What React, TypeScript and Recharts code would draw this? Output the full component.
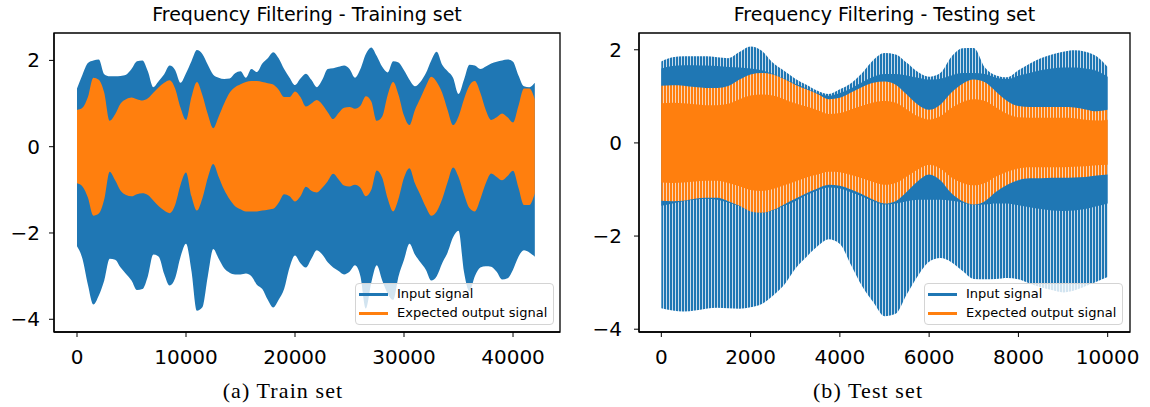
import { ComposedChart, Area, XAxis, YAxis, ReferenceArea } from "recharts"

const blue = "#1f77b4"
const orange = "#ff7f0e"
const sans = "'DejaVu Sans', sans-serif"

// training set: envelopes of the signals, one value every 500 samples
const trainStep = 500
const trainInputHigh = [
  1.35, 1.67, 1.94, 2.0, 2.02, 1.68, 1.63, 1.63, 1.64, 1.67,
  1.8, 1.98, 2.0, 1.75, 1.38, 1.52, 1.68, 1.88, 1.78, 1.48,
  1.7, 1.98, 2.24, 2.15, 1.9, 1.67, 1.6, 1.57, 1.58, 1.7,
  1.75, 1.6, 1.8, 1.73, 1.93, 2.05, 2.19, 2.05, 1.8, 1.6,
  1.43, 1.58, 1.69, 1.55, 1.38, 1.55, 1.8, 1.82, 1.85, 1.88,
  1.8, 1.6, 1.8, 2.15, 2.3, 2.1, 1.85, 1.72, 1.98, 1.95,
  1.77, 1.55, 1.4, 1.5, 1.7, 2.0, 2.2, 1.9, 1.75, 1.6,
  1.22, 1.55, 1.9, 1.88, 1.8, 1.86, 1.93, 1.97, 2.0, 2.02,
  1.97, 1.65, 1.4, 1.38, 1.48,
]
const trainInputLow = [
  -2.31, -2.6, -3.2, -3.66, -3.45, -3.1, -2.6, -2.62, -2.8, -2.95,
  -3.1, -3.32, -3.3, -3.0, -2.5, -2.55, -2.95, -3.22, -3.05, -2.55,
  -2.25, -2.88, -3.8, -3.72, -3.0, -2.37, -2.6, -2.82, -2.92, -2.96,
  -2.96, -2.94, -3.0, -3.2, -3.3, -3.55, -3.73, -3.55, -3.3, -2.8,
  -2.52, -2.7, -2.8, -2.6, -2.4, -2.5, -2.68, -2.8, -2.88, -2.96,
  -2.9, -2.75, -3.0, -3.75, -3.15, -2.75, -3.1, -3.4, -3.55, -3.0,
  -2.62, -2.25, -2.5, -2.68, -2.85, -3.1, -3.0, -2.7, -2.45, -2.1,
  -1.95, -2.9, -3.35, -3.0, -2.8, -2.77, -2.78, -2.9, -3.08, -3.05,
  -2.85, -2.55, -2.4, -2.45, -2.55,
]
const trainOutputHigh = [
  0.85, 0.9, 1.15, 1.6, 1.55, 1.25, 0.6, 0.75, 1.0, 1.1,
  1.14, 1.1, 1.07, 1.12, 1.25, 1.38, 1.48, 1.54, 1.35, 0.9,
  0.62, 1.15, 1.5, 1.2, 0.75, 0.43, 0.7, 1.0, 1.25, 1.38,
  1.45, 1.5, 1.52, 1.52, 1.5, 1.47, 1.44, 1.32, 1.15, 1.15,
  1.28, 1.15, 0.93, 1.0, 1.08, 0.98, 0.8, 0.64, 0.78, 0.9,
  0.92, 0.88, 0.95, 1.17, 1.05, 0.6, 0.7, 1.2, 1.5, 1.2,
  0.72, 0.5, 0.85, 1.12, 1.4, 1.62, 1.5, 1.25, 0.85, 0.5,
  0.7, 1.1, 1.42, 1.52, 1.25, 0.85, 0.62, 0.68, 0.77, 0.68,
  0.56, 0.95, 1.35, 1.35, 1.1,
]
const trainOutputLow = [
  -0.85, -0.92, -1.18, -1.6, -1.55, -1.22, -0.58, -0.78, -1.02, -1.12,
  -1.15, -1.1, -1.08, -1.12, -1.25, -1.38, -1.48, -1.54, -1.35, -0.88,
  -0.6, -1.15, -1.48, -1.2, -0.72, -0.4, -0.7, -1.0, -1.22, -1.38,
  -1.45, -1.5, -1.5, -1.5, -1.48, -1.46, -1.44, -1.3, -1.1, -1.15,
  -1.27, -1.15, -0.93, -1.02, -1.06, -0.95, -0.8, -0.63, -0.76, -0.9,
  -0.92, -0.88, -0.95, -1.15, -1.0, -0.55, -0.72, -1.2, -1.5, -1.2,
  -0.72, -0.5, -0.85, -1.12, -1.4, -1.6, -1.5, -1.22, -0.82, -0.48,
  -0.7, -1.1, -1.42, -1.5, -1.22, -0.85, -0.62, -0.7, -0.78, -0.68,
  -0.56, -0.95, -1.35, -1.35, -1.08,
]

// testing set: tips and solid cores of the oscillation, one value every 250 samples
const testStep = 250
const testInputHigh = [
  1.75, 1.84, 1.86, 1.86, 1.86, 1.84, 1.82, 1.95, 2.07, 1.98,
  1.72, 1.55, 1.38, 1.25, 1.12, 1.05, 1.15, 1.28, 1.5, 1.78,
  1.93, 1.9, 1.72, 1.52, 1.42, 1.5, 1.85, 2.03, 2.04, 1.62,
  1.45, 1.41, 1.56, 1.7, 1.82, 1.9, 1.96, 1.99, 1.96, 1.86,
  1.63,
]
const testInputCoreHigh = [
  1.6, 1.65, 1.67, 1.67, 1.66, 1.65, 1.63, 1.62, 1.6, 1.56,
  1.48, 1.38, 1.27, 1.17, 1.07, 1.01, 1.07, 1.17, 1.3, 1.42,
  1.48, 1.48, 1.45, 1.4, 1.36, 1.38, 1.45, 1.5, 1.5, 1.48,
  1.4, 1.37, 1.44, 1.5, 1.56, 1.6, 1.62, 1.62, 1.6, 1.55,
  1.42,
]
const testInputCoreLow = [
  -1.35, -1.3, -1.25, -1.22, -1.2, -1.22, -1.28, -1.36, -1.45, -1.5,
  -1.45, -1.35, -1.25, -1.12, -1.02, -0.96, -0.98, -1.06, -1.15, -1.25,
  -1.32, -1.3, -1.25, -1.22, -1.22, -1.22, -1.24, -1.28, -1.33, -1.32,
  -1.3, -1.3, -1.34, -1.38, -1.42, -1.45, -1.46, -1.45, -1.42, -1.36,
  -1.3,
]
const testInputLow = [
  -3.55, -3.6, -3.62, -3.6, -3.56, -3.54, -3.55, -3.56, -3.53, -3.46,
  -3.28, -3.05, -2.7, -2.45, -2.22, -2.07, -2.17, -2.62, -3.08, -3.42,
  -3.72, -3.67, -3.25, -2.85, -2.55, -2.47, -2.56, -2.75, -2.92, -2.93,
  -2.92, -2.9, -2.93, -3.02, -3.1, -3.16, -3.21, -3.17, -3.08, -2.98,
  -2.88,
]
const testOutputHigh = [
  1.23, 1.24, 1.23, 1.2, 1.18, 1.18, 1.22, 1.36, 1.47, 1.5,
  1.47, 1.37, 1.25, 1.15, 1.05, 0.94, 0.97, 1.08, 1.2, 1.29,
  1.32, 1.25, 1.04, 0.82, 0.71, 0.82, 1.08, 1.27, 1.36, 1.3,
  1.1, 0.9, 0.79, 0.77, 0.77, 0.77, 0.77, 0.76, 0.72, 0.68,
  0.71,
]
const testOutputCoreHigh = [
  0.85, 0.86, 0.85, 0.83, 0.81, 0.81, 0.84, 0.94, 1.02, 1.04,
  1.02, 0.94, 0.85, 0.78, 0.7, 0.62, 0.64, 0.72, 0.8, 0.87,
  0.9, 0.86, 0.72, 0.57, 0.5, 0.57, 0.75, 0.88, 0.94, 0.9,
  0.76, 0.62, 0.55, 0.54, 0.54, 0.54, 0.54, 0.53, 0.5, 0.48,
  0.5,
]
const testOutputCoreLow = [
  -0.85, -0.86, -0.85, -0.83, -0.81, -0.81, -0.86, -0.93, -1.01, -1.03,
  -0.99, -0.91, -0.83, -0.74, -0.68, -0.62, -0.63, -0.69, -0.76, -0.84,
  -0.9, -0.86, -0.72, -0.57, -0.47, -0.55, -0.74, -0.86, -0.91, -0.86,
  -0.72, -0.62, -0.55, -0.52, -0.52, -0.52, -0.52, -0.51, -0.5, -0.48,
  -0.47,
]
const testOutputLow = [
  -1.24, -1.25, -1.24, -1.2, -1.18, -1.18, -1.25, -1.35, -1.47, -1.5,
  -1.44, -1.32, -1.2, -1.08, -0.98, -0.9, -0.92, -1.0, -1.1, -1.22,
  -1.3, -1.25, -1.05, -0.82, -0.68, -0.8, -1.08, -1.25, -1.32, -1.25,
  -1.05, -0.9, -0.8, -0.76, -0.76, -0.75, -0.75, -0.74, -0.73, -0.7,
  -0.68,
]

const trainTicks = [0, 10000, 20000, 30000, 40000]
const testTicks = [0, 2000, 4000, 6000, 8000, 10000]
const yTicks = [-4, -2, 0, 2]
const legendNames = ["Input signal", "Expected output signal"]

const trainX: [number, number] = [-2110, 44310]
const trainY: [number, number] = [-4.295, 2.635]
const testX: [number, number] = [-500, 10500]
const testY: [number, number] = [-4.06, 2.36]

const trainData = trainInputHigh.map((_, i) => ({
  x: i * trainStep,
  input: [trainInputLow[i], trainInputHigh[i]],
  output: [trainOutputLow[i], trainOutputHigh[i]],
}))

const testData = testInputHigh.map((_, i) => ({
  x: i * testStep,
  input: [testInputLow[i], testInputHigh[i]],
  inputCore: [testInputCoreLow[i], testInputCoreHigh[i]],
  output: [testOutputLow[i], testOutputHigh[i]],
  outputCore: [testOutputCoreLow[i], testOutputCoreHigh[i]],
}))

const tickStyle = { fill: "#000", fontSize: 20, fontFamily: sans }
const minus = (v: number) => String(v).replace("-", "\u2212")

function Legend({ left }: { left: number }) {
  return (
    <div
      style={{
        position: "absolute",
        left,
        top: 283,
        width: 199,
        height: 42,
        boxSizing: "border-box",
        border: "1px solid #d4d4d4",
        borderRadius: 4,
        background: "rgba(255,255,255,0.8)",
        fontFamily: sans,
        fontSize: 13,
        color: "#000",
      }}
    >
      {legendNames.map((name, i) => (
        <div key={name}>
          <div
            style={{
              position: "absolute",
              left: 3,
              top: 9 + i * 19,
              width: 29,
              height: 3,
              background: i === 0 ? blue : orange,
            }}
          />
          <div style={{ position: "absolute", left: 41, top: 2 + i * 19, lineHeight: "16px", whiteSpace: "nowrap" }}>
            {name}
          </div>
        </div>
      ))}
    </div>
  )
}

function Title({ text, center }: { text: string; center: number }) {
  return (
    <div
      style={{
        position: "absolute",
        left: center - 250,
        width: 500,
        top: 5,
        textAlign: "center",
        fontFamily: sans,
        fontSize: 19,
        lineHeight: "19px",
        color: "#000",
      }}
    >
      {text}
    </div>
  )
}

function Caption({ text, center }: { text: string; center: number }) {
  return (
    <div
      style={{
        position: "absolute",
        left: center - 150,
        width: 300,
        top: 380,
        textAlign: "center",
        fontFamily: "'Liberation Serif', serif",
        fontSize: 22,
        lineHeight: "22px",
        letterSpacing: 1.1,
        color: "#000",
      }}
    >
      {text}
    </div>
  )
}

export default function App() {
  return (
    <div style={{ position: "absolute", left: 0, top: 0, width: 1150, height: 407, background: "#fff" }}>
      <Title text="Frequency Filtering - Training set" center={307} />
      <Title text="Frequency Filtering - Testing set" center={884.5} />

      <div style={{ position: "absolute", left: 0, top: 0 }}>
        <ComposedChart width={580} height={407} data={trainData} margin={{ top: 33, right: 20, bottom: 45, left: 0 }}>
          <XAxis
            dataKey="x"
            type="number"
            domain={trainX}
            ticks={trainTicks}
            interval={0}
            allowDataOverflow
            height={30}
            tick={tickStyle}
            tickSize={5}
            tickMargin={13}
            tickLine={{ stroke: "#000" }}
            axisLine={{ stroke: "#000", strokeWidth: 1.3 }}
          />
          <YAxis
            type="number"
            domain={trainY}
            ticks={yTicks}
            interval={0}
            allowDataOverflow
            width={54}
            tick={tickStyle}
            tickFormatter={minus}
            tickSize={5}
            tickMargin={9}
            tickLine={{ stroke: "#000" }}
            axisLine={{ stroke: "#000", strokeWidth: 1.3 }}
          />
          <Area dataKey="input" type="monotone" stroke="none" fill={blue} fillOpacity={1} isAnimationActive={false} dot={false} activeDot={false} />
          <Area dataKey="output" type="monotone" stroke="none" fill={orange} fillOpacity={1} isAnimationActive={false} dot={false} activeDot={false} />
          <ReferenceArea x1={trainX[0]} x2={trainX[1]} y1={trainY[0]} y2={trainY[1]} fill="none" stroke="#000" strokeWidth={1.3} ifOverflow="visible" />
        </ComposedChart>
        <Legend left={355} />
      </div>

      <div style={{ position: "absolute", left: 580, top: 0 }}>
        <ComposedChart width={570} height={407} data={testData} margin={{ top: 33, right: 20, bottom: 45, left: 0 }}>
          <defs>
            <pattern id="blueStripes" width="3" height="8" patternUnits="userSpaceOnUse">
              <rect width="3" height="8" fill="#c9dcec" />
              <rect width="2" height="8" fill={blue} />
            </pattern>
            <pattern id="orangeStripes" width="3" height="8" patternUnits="userSpaceOnUse">
              <rect width="3" height="8" fill="#f9d6b8" />
              <rect width="2" height="8" fill={orange} />
            </pattern>
          </defs>
          <XAxis
            dataKey="x"
            type="number"
            domain={testX}
            ticks={testTicks}
            interval={0}
            allowDataOverflow
            height={30}
            tick={tickStyle}
            tickSize={5}
            tickMargin={13}
            tickLine={{ stroke: "#000" }}
            axisLine={{ stroke: "#000", strokeWidth: 1.3 }}
          />
          <YAxis
            type="number"
            domain={testY}
            ticks={yTicks}
            interval={0}
            allowDataOverflow
            width={59}
            tick={tickStyle}
            tickFormatter={minus}
            tickSize={5}
            tickMargin={12}
            tickLine={{ stroke: "#000" }}
            axisLine={{ stroke: "#000", strokeWidth: 1.3 }}
          />
          <Area dataKey="input" type="monotone" stroke="none" fill="url(#blueStripes)" fillOpacity={1} isAnimationActive={false} dot={false} activeDot={false} />
          <Area dataKey="inputCore" type="monotone" stroke="none" fill={blue} fillOpacity={1} isAnimationActive={false} dot={false} activeDot={false} />
          <Area dataKey="output" type="monotone" stroke="none" fill="url(#orangeStripes)" fillOpacity={1} isAnimationActive={false} dot={false} activeDot={false} />
          <Area dataKey="outputCore" type="monotone" stroke="none" fill={orange} fillOpacity={1} isAnimationActive={false} dot={false} activeDot={false} />
          <ReferenceArea x1={testX[0]} x2={testX[1]} y1={testY[0]} y2={testY[1]} fill="none" stroke="#000" strokeWidth={1.3} ifOverflow="visible" />
        </ComposedChart>
        <Legend left={344} />
      </div>

      <Caption text="(a) Train set" center={283} />
      <Caption text="(b) Test set" center={868} />
    </div>
  )
}
